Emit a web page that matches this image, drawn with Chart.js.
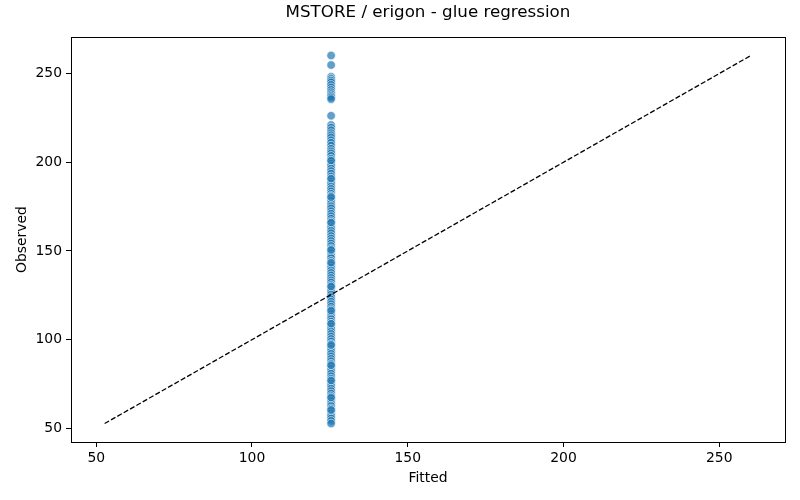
<!DOCTYPE html>
<html>
<head>
<meta charset="utf-8">
<script src="https://cdn.jsdelivr.net/npm/chart.js@4/dist/chart.umd.min.js"></script>
<style>
html,body{margin:0;padding:0;background:#fff;}
#wrap{width:800px;height:500px;position:relative;}
</style>
</head>
<body>
<div id="wrap"><canvas id="c" width="800" height="500"></canvas></div>
<script>
const chartTitle = "MSTORE / erigon - glue regression";
const xLabel = "Fitted";
const yLabel = "Observed";
const fittedValue = 125.4;
const observed = [
  260.2, 254.8,
  248.1, 247.0, 246.0, 245.0, 243.6, 242.2, 240.8, 239.5, 238.4, 237.4, 236.6, 235.6,
  226.2,
  221.0, 219.6, 218.0, 216.4, 215.2, 214.0, 212.4, 211.0, 209.4, 207.6, 206.2, 205.0, 203.6, 202.0,
  200.6, 199.2, 198.0, 196.4, 195.0, 193.6, 192.0, 190.4, 189.2, 188.0, 186.4, 185.0, 183.6, 182.2,
  181.0, 179.6, 178.2, 176.6, 175.2, 174.0, 172.4, 171.0, 169.6, 168.2, 166.8, 165.6, 164.0, 162.8,
  161.4, 160.0, 158.4, 157.0, 155.6, 154.2, 152.8, 151.4, 150.2, 148.8, 147.2, 146.0, 144.4, 143.0,
  142.0, 140.6, 139.0, 137.6, 136.2, 134.8, 133.4, 132.2, 130.8, 129.6, 128.2, 126.8, 125.4, 124.0,
  122.6, 121.4, 120.0, 118.6, 117.2, 115.8, 114.4, 113.0, 111.6, 110.2, 108.8, 107.4, 106.0, 104.6,
  103.2, 101.8, 100.4, 99.0, 97.6, 96.2, 94.8, 93.4, 92.0, 90.6, 89.2, 87.8, 86.4, 85.0,
  83.6, 82.2, 80.8, 79.4, 78.0, 76.6, 75.2, 73.8, 72.4, 71.0, 69.6, 68.2, 66.8, 65.4,
  64.0, 62.6, 61.2, 59.8, 58.4, 57.0, 55.6, 54.2, 52.7,
  201.0, 190.8, 180.4, 166.0, 150.6, 143.4, 130.0, 116.4, 109.0, 97.0, 85.6, 77.0, 67.4, 60.4
];
const refLine = [52.7, 260.2];
const xTicks = [50, 100, 150, 200, 250];
const yTicks = [50, 100, 150, 200, 250];
const xRange = [41.9, 271.1];
const yRange = [42.3, 270.6];

const scatterData = observed.map(v => ({x: fittedValue, y: v}));
const lineData = refLine.map(v => ({x: v, y: v}));

const frame = {
  id: 'frame',
  afterDraw(chart) {
    const {ctx, chartArea: a} = chart;
    ctx.save();
    ctx.strokeStyle = '#000';
    ctx.lineWidth = 1;
    ctx.strokeRect(Math.round(a.left) + 0.5, Math.round(a.top) + 0.5, Math.round(a.right - a.left), Math.round(a.bottom - a.top));
    ctx.fillStyle = '#000';
    ctx.font = '16.7px "DejaVu Sans"';
    ctx.textAlign = 'center';
    ctx.textBaseline = 'middle';
    ctx.fillText(chartTitle, (a.left + a.right) / 2, 13);
    ctx.restore();
  }
};

const tickFont = {family: '"DejaVu Sans"', size: 13.9};
const fixTicks = arr => (scale) => { scale.ticks = arr.map(v => ({value: v})); };

new Chart(document.getElementById('c'), {
  type: 'scatter',
  data: {
    datasets: [
      {
        type: 'line',
        data: lineData,
        borderColor: '#000',
        borderWidth: 1.3,
        borderDash: [5.1, 2.2],
        pointRadius: 0,
        fill: false
      },
      {
        data: scatterData,
        pointRadius: 4.3,
        backgroundColor: 'rgba(31,119,180,0.7)',
        borderColor: 'rgba(255,255,255,0.85)',
        borderWidth: 0.7
      }
    ]
  },
  options: {
    responsive: false,
    animation: false,
    devicePixelRatio: 1,
    layout: {padding: {left: 0, right: 15, top: 37, bottom: 0}},
    plugins: {legend: {display: false}, tooltip: {enabled: false}, title: {display: false}},
    scales: {
      x: {
        type: 'linear',
        min: xRange[0], max: xRange[1],
        afterBuildTicks: fixTicks(xTicks),
        afterFit(s) { s.height = 58; },
        grid: {display: true, drawOnChartArea: false, drawTicks: true, tickLength: 5, color: '#000', lineWidth: 1},
        border: {display: true, color: '#000', width: 1},
        ticks: {color: '#000', font: tickFont, padding: 3, maxRotation: 0},
        title: {display: true, text: xLabel, color: '#000', font: tickFont, padding: {top: 0, bottom: 13.6}}
      },
      y: {
        type: 'linear',
        min: yRange[0], max: yRange[1],
        afterBuildTicks: fixTicks(yTicks),
        afterFit(s) { s.width = 71; },
        grid: {display: true, drawOnChartArea: false, drawTicks: true, tickLength: 5, color: '#000', lineWidth: 1},
        border: {display: true, color: '#000', width: 1},
        ticks: {color: '#000', font: tickFont, padding: 4},
        title: {display: true, text: yLabel, color: '#000', font: tickFont, padding: {top: 13.6, bottom: 0}}
      }
    }
  },
  plugins: [frame]
});
</script>
</body>
</html>
